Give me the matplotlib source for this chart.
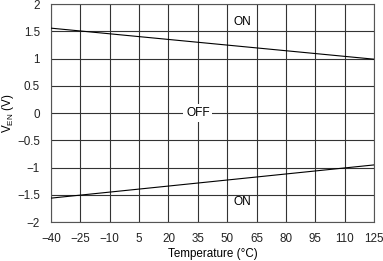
import matplotlib.pyplot as plt

plt.rcParams['font.family'] = ['Liberation Sans', 'DejaVu Sans']
plt.rcParams['mathtext.fontset'] = 'custom'
plt.rcParams['mathtext.rm'] = 'Liberation Sans'

# enable threshold vs temperature
temps = [-40, 125]
v_on_high = [1.56, 0.99]
v_on_low = [-1.56, -0.95]
xticks = [-40, -25, -10, 5, 20, 35, 50, 65, 80, 95, 110, 125]
yticks = [-2, -1.5, -1, -0.5, 0, 0.5, 1, 1.5, 2]
yticklabels = ['\u22122', '\u22121.5', '\u22121', '\u22120.5', '0', '0.5', '1', '1.5', '2']
xticklabels = [str(t).replace('-', '\u2212') for t in xticks]

fig = plt.figure(figsize=(3.83, 2.61), dpi=100)
ax = fig.add_axes([0.133, 0.149, 0.844, 0.835])

ax.plot(temps, v_on_high, color='black', lw=0.8, zorder=3)
ax.plot(temps, v_on_low, color='black', lw=0.8, zorder=3)

ax.set_xlim(-40, 125)
ax.set_ylim(-2, 2)
ax.set_xticks(xticks)
ax.set_xticklabels(xticklabels)
ax.set_yticks(yticks)
ax.set_yticklabels(yticklabels)
ax.tick_params(length=0, labelsize=8.4, colors='#222222')
ax.tick_params(axis='x', pad=8)
ax.tick_params(axis='y', pad=8)
ax.grid(True, color='#333333', lw=0.8)
for s in ax.spines.values():
    s.set_color('#555555')
    s.set_linewidth(0.8)

box = dict(facecolor='white', edgecolor='none', pad=2)
ax.text(57.5, 1.68, 'ON', ha='center', va='center', fontsize=8.6, zorder=4)
ax.text(35, 0, 'OFF', ha='center', va='center', fontsize=8.6, bbox=box, zorder=4)
ax.text(57.5, -1.64, 'ON', ha='center', va='center', fontsize=8.6, zorder=4)

ax.set_xlabel('Temperature (\u00b0C)', fontsize=8.4, labelpad=2)
ax.set_ylabel(r'V$_{\mathregular{EN}}$ (V)', fontsize=8.4, labelpad=1)

fig.savefig('out.png', dpi=100)
